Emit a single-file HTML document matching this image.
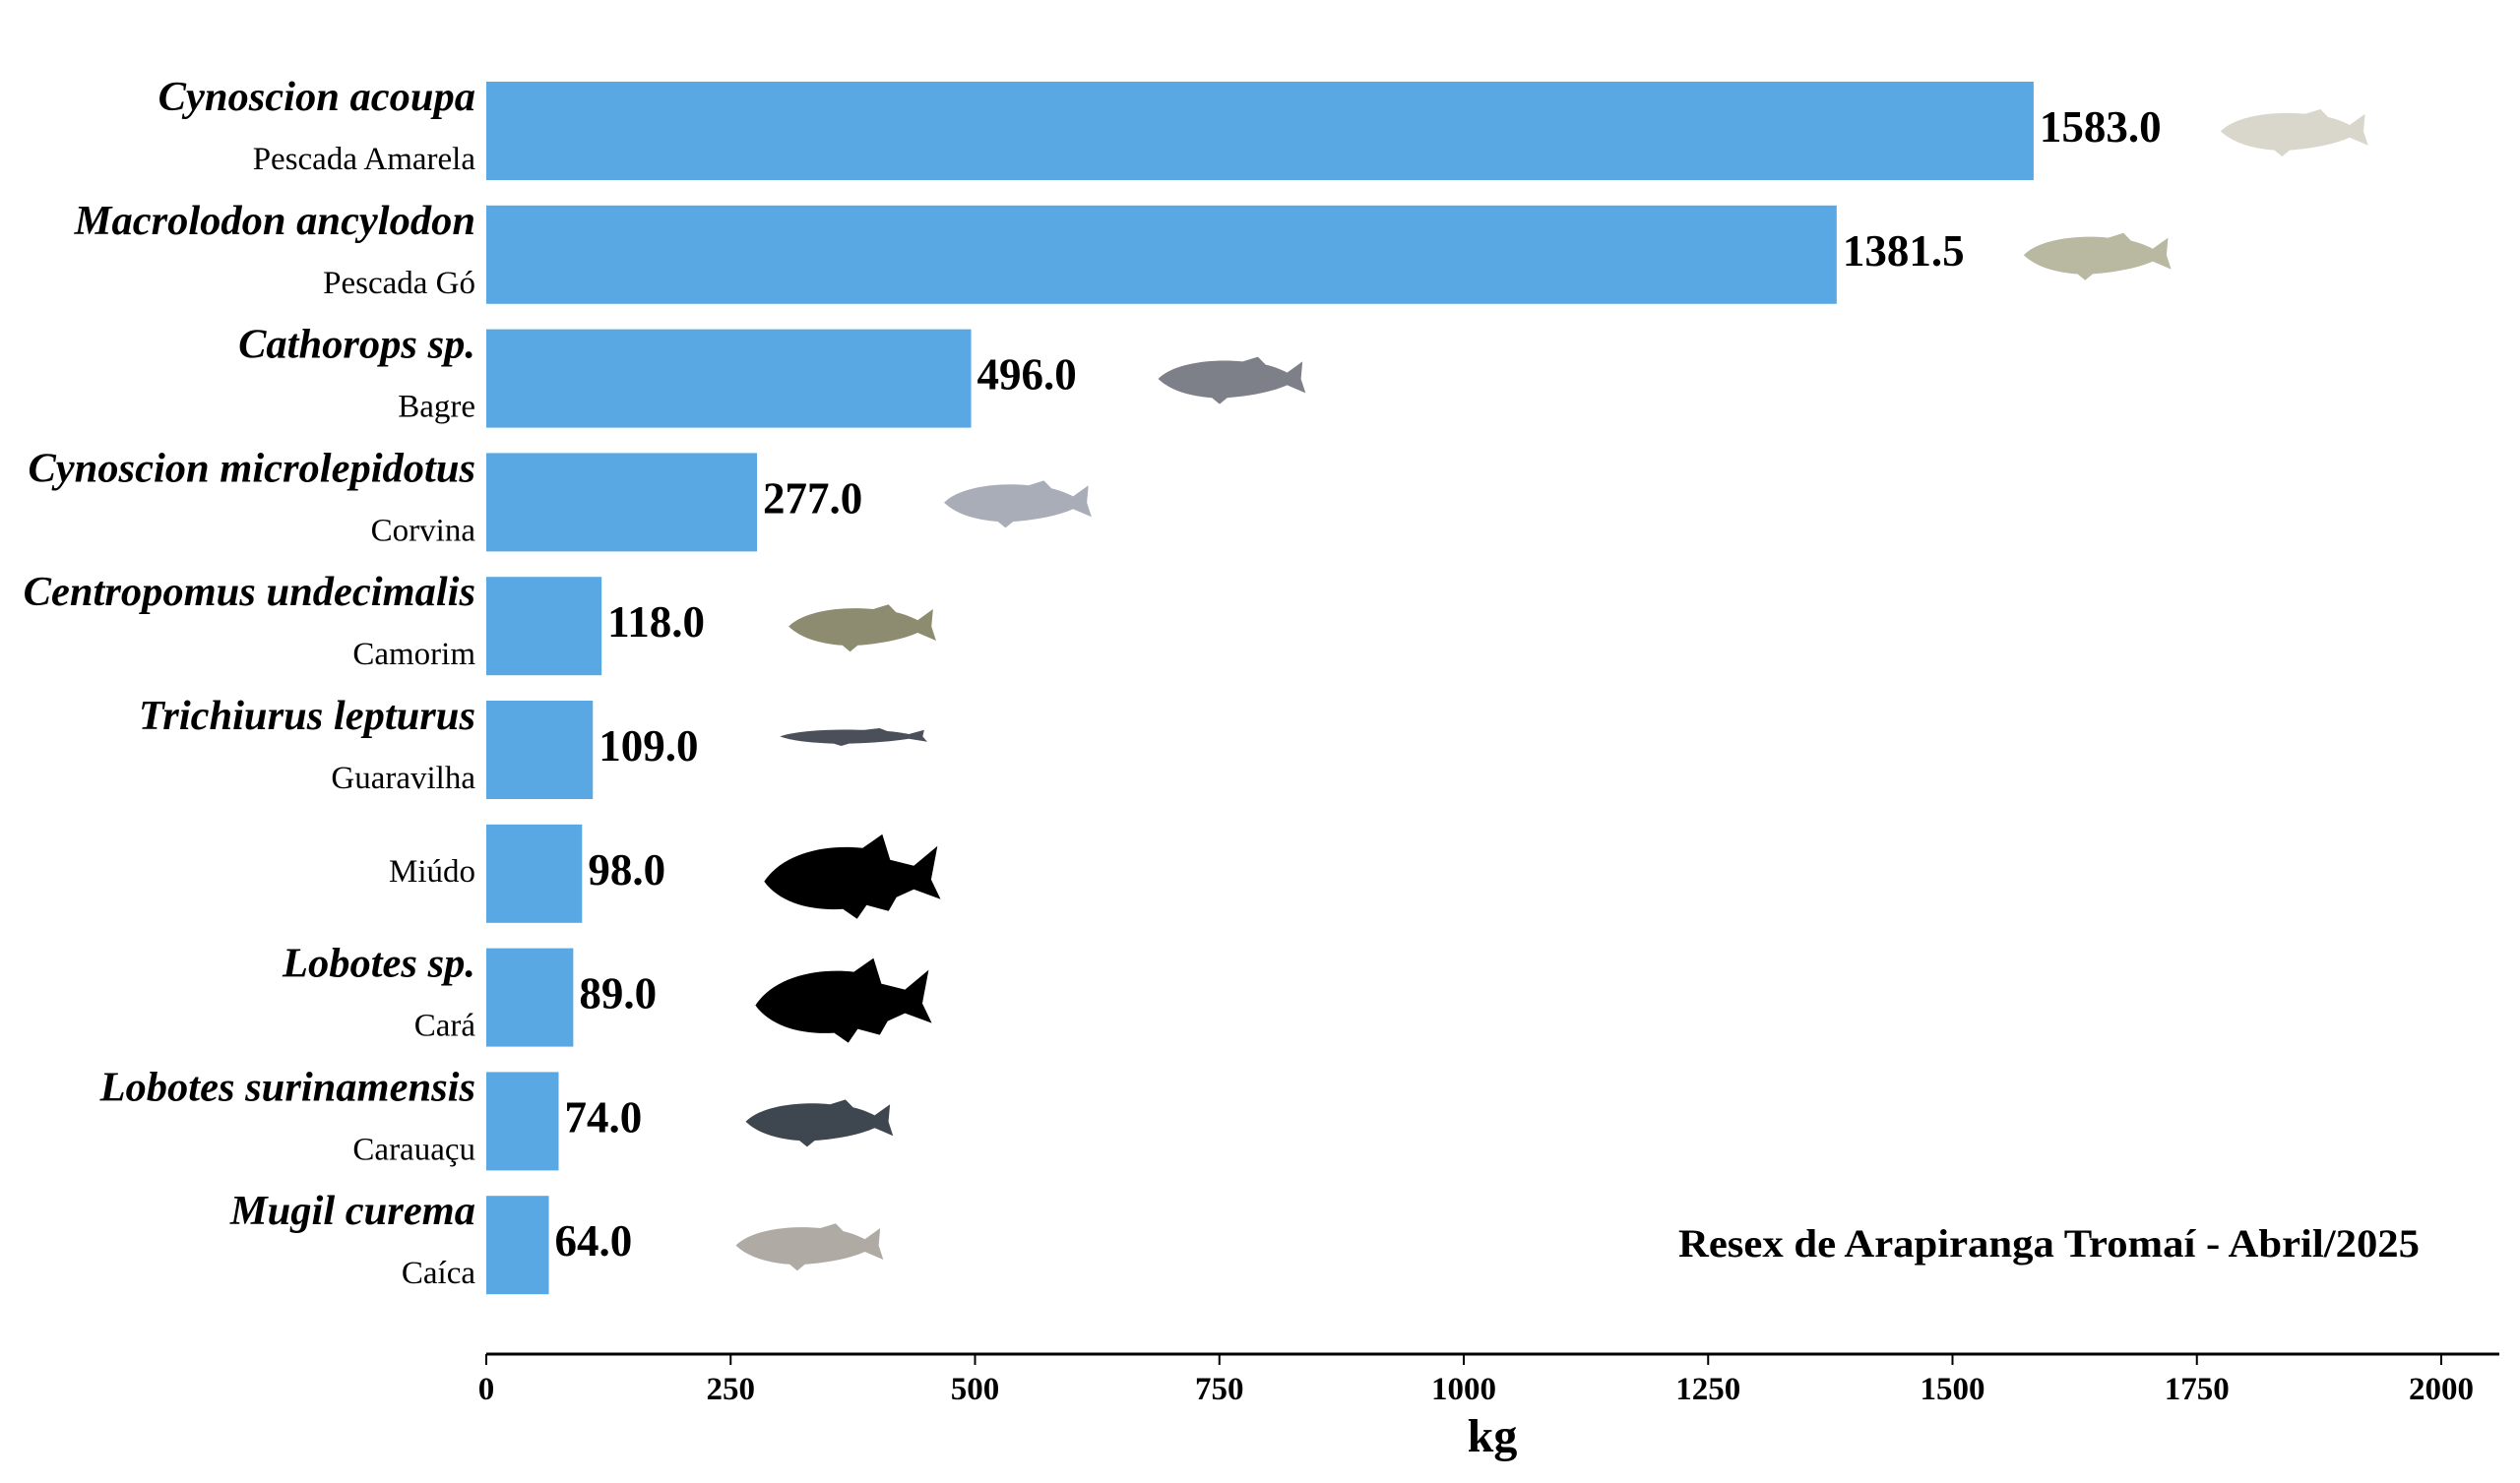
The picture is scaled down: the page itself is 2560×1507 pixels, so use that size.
<!DOCTYPE html>
<html><head><meta charset="utf-8"><style>
html,body{margin:0;padding:0;background:#fff;}
svg{display:block;font-family:"Liberation Serif",serif;}
</style></head><body>
<svg id="chart" width="2560" height="1507" viewBox="0 0 2560 1507">
<g id="bars"></g>
<g id="axis"></g>
<text x="2458" y="1277" text-anchor="end" font-weight="bold" font-size="40" textLength="753" lengthAdjust="spacingAndGlyphs">Resex de Arapiranga Tromaí - Abril/2025</text>
<text x="1516" y="1475" text-anchor="middle" font-weight="bold" font-size="48">kg</text>
</svg>
<script>
const species = ["Cynoscion acoupa","Macrolodon ancylodon","Cathorops sp.","Cynoscion microlepidotus","Centropomus undecimalis","Trichiurus lepturus","","Lobotes sp.","Lobotes surinamensis","Mugil curema"];
const commonNames = ["Pescada Amarela","Pescada Gó","Bagre","Corvina","Camorim","Guaravilha","Miúdo","Cará","Carauaçu","Caíca"];
const values = [1583.0,1381.5,496.0,277.0,118.0,109.0,98.0,89.0,74.0,64.0];
const fishColors = ["#d9d6cc","#b9b8a0","#7d8088","#a9adb8","#8d8c70","#4a4f5a","#000","#000","#3e4650","#b0aaa5"];
const xTicks = [0,250,500,750,1000,1250,1500,1750,2000];

const NS="http://www.w3.org/2000/svg";
const x = v => 494 + v*0.993;
const yTop = i => 83 + i*125.8;
const BH = 100;
function mk(tag, attrs, parent){const e=document.createElementNS(NS,tag);for(const k in attrs)e.setAttribute(k,attrs[k]);parent.appendChild(e);return e;}
const gb=document.getElementById('bars'), ga=document.getElementById('axis');
const fishPath="M0,28 C20,8 70,2 110,6 L130,0 L140,10 C150,12 160,16 168,20 L188,6 L186,28 L192,46 L168,36 C150,44 120,50 90,52 L80,60 L70,52 C40,50 15,42 0,28 Z";
const silPath="M0,48 C25,18 80,10 125,14 L150,0 L160,26 L190,32 L220,12 L212,46 L224,66 L190,56 L168,64 L158,78 L130,72 L118,86 L100,76 C60,78 20,70 0,48 Z";
values.forEach((v,i)=>{
  const t=yTop(i);
  const r=mk('rect',{x:x(0),y:t,width:x(v)-x(0),height:BH,fill:'#5aa8e3'},gb);
  
  
  const lbl=mk('text',{x:x(v)+6,y:t+BH/2+11,'font-size':45,'font-weight':'bold'},gb);
  lbl.textContent=v.toFixed(1);
  
  
  if(species[i]){
    const s=mk('text',{x:483,y:t+29,'text-anchor':'end','font-size':42.5,'font-weight':'bold','font-style':'italic'},gb);
    s.textContent=species[i];
    
    
    const c=mk('text',{x:483,y:t+89,'text-anchor':'end','font-size':33},gb);
    c.textContent=commonNames[i];
    
    
  } else {
    const c=mk('text',{x:483,y:t+58,'text-anchor':'end','font-size':33},gb);
    c.textContent=commonNames[i];
    
    
  }
  const sil = fishColors[i]==='#000';
  const fx=x(v)+190;
  const f=mk('path',{d:sil?silPath:fishPath,fill:fishColors[i],
    transform: sil?`translate(${fx-5},${t+10}) scale(0.8,1)`:`translate(${fx},${t+BH/2-22}) scale(0.78,${i==5?0.3:0.8})`},gb);
  
  
});
const axl=mk('line',{x1:x(0),x2:2539,y1:1376,y2:1376,stroke:'#000','stroke-width':3},ga);


xTicks.forEach(tv=>{
  const tk=mk('line',{x1:x(tv),x2:x(tv),y1:1376,y2:1387,stroke:'#000','stroke-width':2},ga);
  
  
  const tl=mk('text',{x:x(tv),y:1422,'text-anchor':'middle','font-size':33,'font-weight':'bold'},ga);
  tl.textContent=tv;
  
  
});
</script>
</body></html>
